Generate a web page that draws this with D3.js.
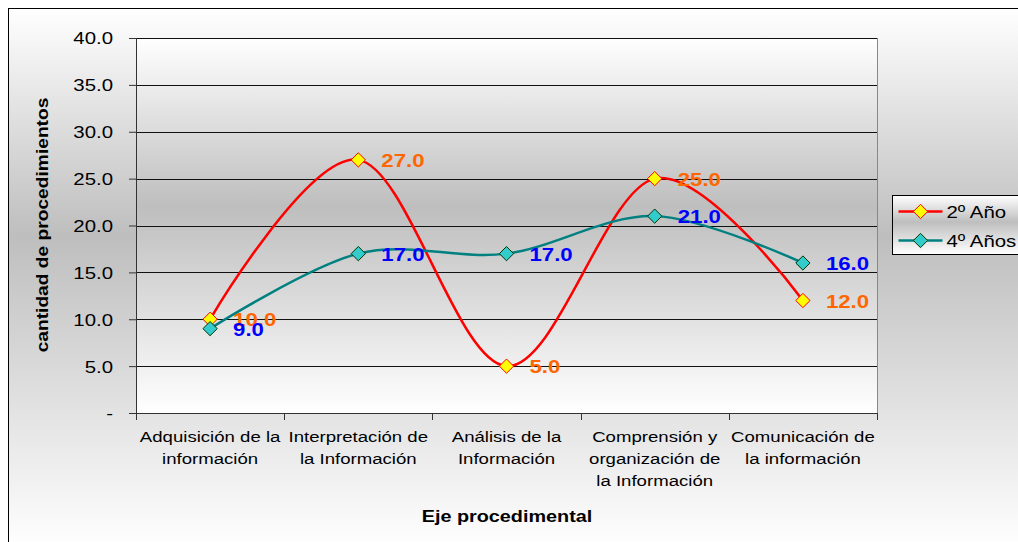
<!DOCTYPE html>
<html>
<head>
<meta charset="utf-8">
<script src="https://cdn.jsdelivr.net/npm/d3@7"></script>
<style>
  body { margin: 0; background: #fff; }
  svg { font-family: Arial, "Liberation Sans", sans-serif; }
</style>
</head>
<body>
<svg class="chart" width="1018" height="542"></svg>
<script>
// categories (each label line separated by "|")
var categories = [
    "Adquisición de la|información",
    "Interpretación de|la Información",
    "Análisis de la|Información",
    "Comprensión y|organización de|la Información",
    "Comunicación de|la información"
];
var seriesNames = ["2º Año", "4º Años"];
var anio2 = [10, 27, 5, 25, 12];
var anio4 = [9, 17, 17, 21, 16];
var yTicks = [0, 5, 10, 15, 20, 25, 30, 35, 40];

var stretch = 1.2; // the original text is drawn a little wide

var svg = d3.select(".chart");

var defs = svg.append("defs");
function grad(id, mid) {
    var g = defs.append("linearGradient").attr("id", id)
        .attr("x1", 0).attr("y1", 0).attr("x2", 0).attr("y2", 1);
    g.append("stop").attr("offset", "0%").attr("stop-color", "#ffffff");
    g.append("stop").attr("offset", mid).attr("stop-color", "#bebebe");
    g.append("stop").attr("offset", "100%").attr("stop-color", "#ffffff");
}
grad("outerGrad", "42%");
grad("plotGrad", "45%");

// outer chart area
svg.append("rect")
    .attr("x", 8.5).attr("y", 8.5)
    .attr("width", 1030).attr("height", 540)
    .style("fill", "url(#outerGrad)")
    .style("stroke", "#000")
    .style("stroke-width", 1);

var margin = {top: 38, left: 136};
var width = 741, height = 375;

var x = d3.scaleBand()
    .domain(d3.range(categories.length))
    .range([0, width]);

var y = d3.scaleLinear()
    .domain([0, 40])
    .range([height, 0]);

var main = svg.append("g")
    .attr("transform", "translate(" + margin.left + "," + margin.top + ")");

main.append("rect")
    .attr("width", width).attr("height", height)
    .style("fill", "url(#plotGrad)");

// gridlines
main.selectAll(".grid")
    .data(yTicks.filter(function(d) { return d > 0; }))
    .enter().append("line")
    .attr("x1", 0).attr("x2", width)
    .attr("y1", function(d) { return Math.round(y(d)) + 0.5; })
    .attr("y2", function(d) { return Math.round(y(d)) + 0.5; })
    .style("stroke", "#111")
    .style("stroke-width", 1);

// right border of plot area
main.append("line")
    .attr("x1", width + 0.5).attr("x2", width + 0.5)
    .attr("y1", 0).attr("y2", height)
    .style("stroke", "#888");

// y axis
var yAxis = d3.axisLeft(y)
    .tickValues(yTicks)
    .tickSize(7)
    .tickFormat(function(d) { return d === 0 ? "-" : d.toFixed(1); });

var gy = main.append("g").attr("class", "axis y").call(yAxis);
gy.select(".domain").style("stroke", "#333").attr("d", "M0.5,0V" + height);
gy.selectAll("line").style("stroke", "#333");
gy.selectAll("text")
    .attr("x", 0).attr("dy", "0.35em")
    .attr("transform", "translate(-23,0) scale(" + stretch + ",1)")
    .style("font-size", "17px").style("fill", "#000");

// x axis: ticks at category boundaries
var boundaries = d3.range(categories.length + 1).map(function(i) { return i * x.bandwidth(); });
var gx = main.append("g").attr("transform", "translate(0," + height + ")");
gx.append("line").attr("x1", 0).attr("x2", width)
    .attr("y1", 0.5).attr("y2", 0.5).style("stroke", "#333");
gx.selectAll(".tick").data(boundaries).enter().append("line")
    .attr("x1", function(d) { return Math.round(d) + 0.5; })
    .attr("x2", function(d) { return Math.round(d) + 0.5; })
    .attr("y1", 0).attr("y2", 7)
    .style("stroke", "#333");

var catText = gx.selectAll(".cat").data(categories).enter().append("text")
    .attr("text-anchor", "middle")
    .style("font-size", "15.5px")
    .attr("transform", function(d, i) {
        return "translate(" + (x(i) + x.bandwidth() / 2) + ",29) scale(" + stretch + ",1)";
    });
catText.each(function(d) {
    var t = d3.select(this);
    d.split("|").forEach(function(line, k) {
        t.append("tspan").attr("x", 0).attr("y", k * 22).text(line);
    });
});

// axis titles
svg.append("text")
    .attr("transform", "translate(507,522) scale(" + stretch + ",1)")
    .attr("text-anchor", "middle")
    .style("font-size", "16.5px").style("font-weight", "bold")
    .text("Eje procedimental");

svg.append("text")
    .attr("transform", "translate(48,225) rotate(-90) scale(" + stretch + ",1)")
    .attr("text-anchor", "middle")
    .style("font-size", "16px").style("font-weight", "bold")
    .text("cantidad de procedimientos");

// series
var series = [
    {name: seriesNames[0], values: anio2, line: "#ff0000", fill: "#ffff00", stroke: "#ff0000", label: "#ff6600"},
    {name: seriesNames[1], values: anio4, line: "#008080", fill: "#33cccc", stroke: "#003300", label: "#0000ff"}
];

var line = d3.line()
    .curve(d3.curveCatmullRom.alpha(0))
    .x(function(d, i) { return x(i) + x.bandwidth() / 2; })
    .y(function(d) { return y(d); });

var diamond = d3.symbol().type(d3.symbolDiamond2).size(130);

series.forEach(function(s) {
    main.append("path")
        .datum(s.values)
        .attr("d", line)
        .style("fill", "none")
        .style("stroke", s.line)
        .style("stroke-width", 2.5);
});

series.forEach(function(s) {
    main.selectAll(null)
        .data(s.values)
        .enter().append("path")
        .attr("d", diamond)
        .attr("transform", function(d, i) {
            return "translate(" + (x(i) + x.bandwidth() / 2) + "," + y(d) + ")";
        })
        .style("fill", s.fill)
        .style("stroke", s.stroke)
        .style("stroke-width", 1);
});

series.forEach(function(s) {
    main.selectAll(null)
        .data(s.values)
        .enter().append("text")
        .attr("transform", function(d, i) {
            return "translate(" + (x(i) + x.bandwidth() / 2 + 23) + "," + (y(d) + 7) + ") scale(" + stretch + ",1)";
        })
        .style("font-size", "18.5px").style("font-weight", "bold")
        .style("fill", s.label)
        .text(function(d) { return d.toFixed(1); });
});

// legend
var legend = svg.append("g").attr("transform", "translate(892.5,195.5)");
legend.append("rect").attr("width", 140).attr("height", 59)
    .style("fill", "url(#plotGrad)").style("stroke", "#000");
var li = legend.selectAll(".li").data(series).enter().append("g")
    .attr("transform", function(d, i) { return "translate(0," + (16 + i * 29) + ")"; });
li.append("line").attr("x1", 6).attr("x2", 50)
    .style("stroke", function(d) { return d.line; }).style("stroke-width", 2.5);
li.append("path").attr("d", diamond).attr("transform", "translate(28,0)")
    .style("fill", function(d) { return d.fill; })
    .style("stroke", function(d) { return d.stroke; });
li.append("text").attr("transform", "translate(54,6) scale(" + stretch + ",1)")
    .style("font-size", "17px")
    .text(function(d) { return d.name; });
</script>
</body>
</html>
